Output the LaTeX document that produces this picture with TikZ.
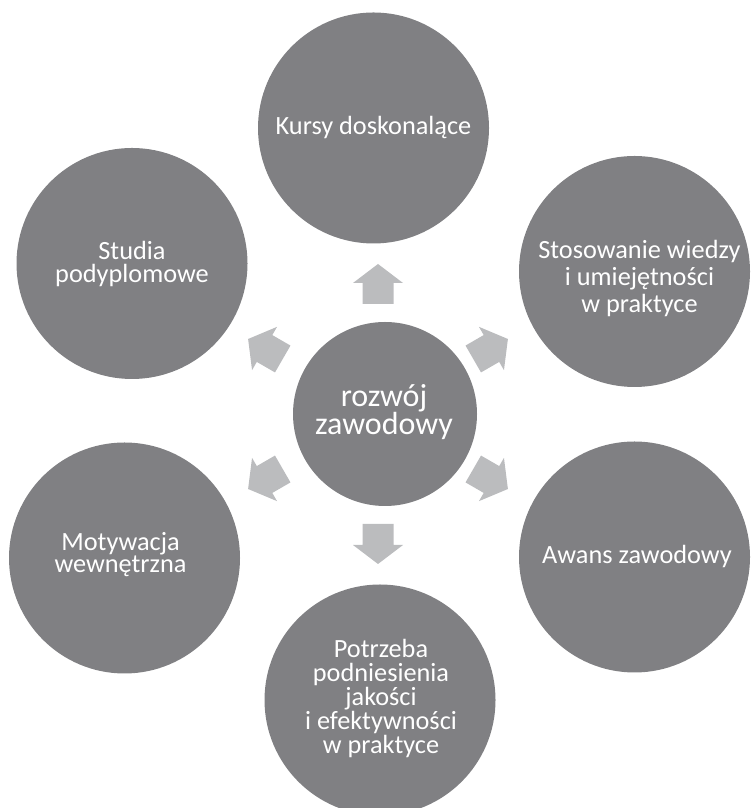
\documentclass[tikz,border=0pt]{standalone}
\usepackage{fontspec}
\setmainfont{Carlito}
\definecolor{circgray}{RGB}{128,128,131}
\definecolor{arrgray}{RGB}{187,188,190}
\begin{document}
\begin{tikzpicture}[x=1pt,y=1pt,
  bubble/.style={circle,fill=circgray,inner sep=0pt,minimum size=231pt},
  hub/.style={circle,fill=circgray,inner sep=0pt,minimum size=184pt},
  lbl/.style={text=white,align=center,inner sep=0pt,anchor=base,
    font=\fontsize{26.3}{#1}\selectfont},
  lbl/.default=23.5,
  hublbl/.style={text=white,align=center,inner sep=0pt,anchor=base,
    font=\fontsize{32}{28}\selectfont},
  blockarrow/.style={fill=arrgray}]
\path[use as bounding box] (0,0) rectangle (750,808);
% circles
\node[hub]    (hubc)   at (385,394)   {};
\node[bubble] (kursy)  at (373.5,680) {};
\node[bubble] (studia) at (132,544.5) {};
\node[bubble] (stos)   at (634.5,536.5) {};
\node[bubble] (motyw)  at (124.5,250) {};
\node[bubble] (awans)  at (634.5,251) {};
\node[bubble] (potrz)  at (380,108)   {};
% texts (anchor base = baseline of the last line)
\node[hublbl] (thub) at (384,373) {rozwój\\zawodowy};
\node[lbl] (tkursy) at (373.5,673) {Kursy doskonalące};
\node[lbl=23.4] (tstudia) at (132,525.3) {Studia\\podyplomowe};
\node[lbl=27] (tstos) at (639.5,495) {Stosowanie wiedzy\\i umiejętności\\w praktyce};
\node[lbl=22] (tmotyw) at (120.5,235) {Motywacja\\wewnętrzna};
\node[lbl] (tawans) at (637,244) {Awans zawodowy};
\node[lbl=24] (tpotrz) at (381,54) {Potrzeba\\podniesienia\\jakości\\i efektywności\\w praktyce};
% arrows
\coordinate (ac) at (378,394);
\foreach \ang in {90,30,150,210,270,330}{
  \fill[blockarrow,shift={(ac)},rotate=\ang]
    (110,15.5) -- (131,15.5) -- (131,25) -- (150,0) -- (131,-25)
    -- (131,-15.5) -- (110,-15.5) -- cycle;
}
\end{tikzpicture}
\end{document}
